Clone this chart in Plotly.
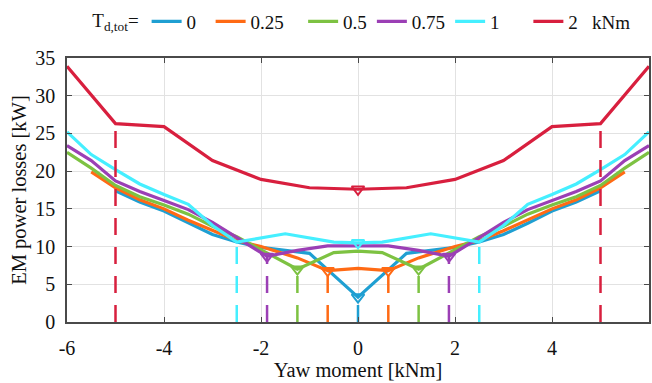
import plotly.graph_objects as go
import numpy as np

# ---------------- data ----------------
NB = "\u00a0"
torque_labels = ["0" + NB * 2, "0.25" + NB * 3, "0.5", "0.75", "1" + NB * 5, "2" + NB * 3 + "kNm"]
torque_values = [0, 0.25, 0.5, 0.75, 1, 2]
colors = ["#1f9fd2", "#ff6a14", "#7dc242", "#9b3fb5", "#45efff", "#d81f3e"]

x_t0 = [-5, -4.5, -4, -3.5, -3, -2.5, -2, -1.5, -1, 0, 1, 1.5, 2, 2.5, 3, 3.5, 4, 4.5, 5]
y_t0 = [17.4, 15.9, 14.7, 13.1, 11.6, 10.6, 9.9, 9.5, 9.1, 3.3, 9.1, 9.5, 9.9, 10.6, 11.6, 13.1, 14.7, 15.9, 17.4]

x_t025 = [-5.5, -5, -4.5, -4, -3.5, -3, -2.5, -2, -1.25, -0.625, 0, 0.625, 1.25, 2, 2.5, 3, 3.5, 4, 4.5, 5, 5.5]
y_t025 = [19.9, 17.8, 16.2, 15.0, 13.5, 12.1, 10.8, 10.0, 8.5, 6.8, 7.1, 6.8, 8.5, 10.0, 10.8, 12.1, 13.5, 15.0, 16.2, 17.8, 19.9]

x_t05 = [-6, -5.5, -5, -4.5, -4, -3.5, -3, -2.5, -1.25, -0.5, 0, 0.5, 1.25, 2.5, 3, 3.5, 4, 4.5, 5, 5.5, 6]
y_t05 = [22.5, 20.4, 18.1, 16.6, 15.5, 14.3, 12.7, 11.3, 7.0, 9.2, 9.4, 9.2, 7.0, 11.3, 12.7, 14.3, 15.5, 16.6, 18.1, 20.4, 22.5]

x_t075 = [-6, -5.5, -5, -4.5, -4, -3.5, -3, -2.5, -1.875, -1.25, -0.625, 0, 0.625, 1.25, 1.875, 2.5, 3, 3.5, 4, 4.5, 5, 5.5, 6]
y_t075 = [23.4, 21.4, 18.7, 17.3, 16.1, 14.9, 13.2, 11.2, 8.7, 9.5, 10.1, 10.1, 10.1, 9.5, 8.7, 11.2, 13.2, 14.9, 16.1, 17.3, 18.7, 21.4, 23.4]

x_t1 = [-6, -5.5, -5, -4.5, -4, -3.5, -3, -2.5, -1.5, -0.5, 0, 0.5, 1.5, 2.5, 3, 3.5, 4, 4.5, 5, 5.5, 6]
y_t1 = [25.2, 22.2, 20.2, 18.3, 16.9, 15.6, 12.8, 10.6, 11.7, 10.6, 10.5, 10.6, 11.7, 10.6, 12.8, 15.6, 16.9, 18.3, 20.2, 22.2, 25.2]

x_t2 = [-6, -5, -4, -3, -2, -1, 0, 1, 2, 3, 4, 5, 6]
y_t2 = [33.9, 26.3, 25.9, 21.4, 18.9, 17.8, 17.6, 17.8, 18.9, 21.4, 25.9, 26.3, 33.9]

# location(s) of the minimum losses for each torque (triangle markers)
min_x = [[0], [-0.625, 0.625], [-1.25, 1.25], [-1.875, 1.875], [0], [0]]
# yaw-moment limits for each torque (dashed lines)
limit_x = [0, 0.625, 1.25, 1.875, 2.5, 5]

xs = [x_t0, x_t025, x_t05, x_t075, x_t1, x_t2]
ys = [y_t0, y_t025, y_t05, y_t075, y_t1, y_t2]

x_ticks = [-6, -4, -2, 0, 2, 4, 6]
y_ticks = [0, 5, 10, 15, 20, 25, 30, 35]

FONT = "Liberation Serif, Times New Roman, serif"

fig = go.Figure()

for i in range(6):
    fig.add_trace(go.Scatter(
        x=xs[i], y=ys[i], mode="lines", name=torque_labels[i],
        line=dict(color=colors[i], width=3.2),
    ))

# dashed limit lines
for i in range(6):
    lims = sorted(set([-limit_x[i], limit_x[i]]))
    for lx in lims:
        ly = float(np.interp(lx, xs[i], ys[i]))
        fig.add_trace(go.Scatter(
            x=[lx, lx], y=[0, ly], mode="lines", showlegend=False,
            line=dict(color=colors[i], width=2.5, dash="17px,12px"),
            hoverinfo="skip",
        ))

# minimum markers
for i in range(6):
    my = [float(np.interp(mx, xs[i], ys[i])) for mx in min_x[i]]
    fig.add_trace(go.Scatter(
        x=min_x[i], y=my, mode="markers", showlegend=False,
        marker=dict(symbol="triangle-down-open", size=11, color=colors[i],
                    line=dict(width=2, color=colors[i])),
    ))

axis_common = dict(
    showgrid=True, gridcolor="#e2e2e2", gridwidth=1,
    zeroline=False, showline=True, linecolor="#4a4a4a", linewidth=1.6,
    mirror="ticks", ticks="inside", ticklen=5, tickwidth=1.2, tickcolor="#4a4a4a",
    tickfont=dict(family=FONT, size=20, color="#111"),
)

fig.update_layout(
    width=652, height=383,
    margin=dict(l=67, r=3, t=46, b=61),
    paper_bgcolor="white", plot_bgcolor="white",
    font=dict(family=FONT, size=19, color="#111"),
    xaxis=dict(range=[-6, 6], tickvals=x_ticks, ticktext=[str(v) for v in x_ticks],
               title=dict(text="Yaw moment [kNm]", standoff=3,
                          font=dict(family=FONT, size=20.5, color="#111")),
               ticklabelstandoff=7, automargin=False, **axis_common),
    yaxis=dict(range=[0, 35], tickvals=y_ticks, ticktext=[str(v) for v in y_ticks],
               title=dict(text="EM power losses [kW]", standoff=3,
                          font=dict(family=FONT, size=20.5, color="#111")),
               ticklabelstandoff=6, automargin=False, **axis_common),
    legend=dict(
        orientation="h", x=0.040, xanchor="left", y=1.138, yanchor="middle",
        title=dict(text="T<sub>d,tot</sub>=", side="left",
                   font=dict(family=FONT, size=19, color="#111")),
        font=dict(family=FONT, size=19, color="#111"),
        itemwidth=30, bgcolor="rgba(0,0,0,0)", tracegroupgap=0,
    ),
    showlegend=True,
)

fig.write_html("out.html")
